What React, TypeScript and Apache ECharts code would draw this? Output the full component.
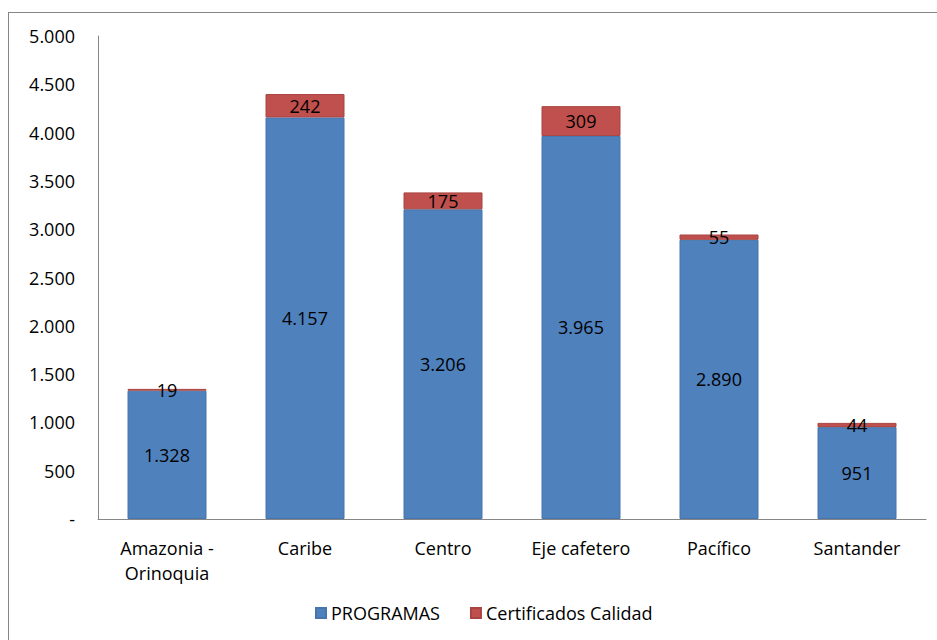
import React, { useEffect, useRef } from "react";
import * as echarts from "echarts";

const categories = ["Amazonia -\nOrinoquia", "Caribe", "Centro", "Eje cafetero", "Pacífico", "Santander"];
const programas = [1328, 4157, 3206, 3965, 2890, 951];
const certificados = [19, 242, 175, 309, 55, 44];
const seriesNames = ["PROGRAMAS", "Certificados Calidad"];

const fmt = (v: number) => {
  if (v === 0) return "-";
  return String(Math.round(v)).replace(/\B(?=(\d{3})+(?!\d))/g, ".");
};

const FONT = "'Open Sans', 'Noto Sans', sans-serif";
const FS = 18;

export default function App() {
  const ref = useRef<HTMLDivElement>(null);
  useEffect(() => {
    if (!ref.current) return;
    const chart = echarts.init(ref.current, null, { renderer: "svg" });
    chart.setOption({
      animation: false,
      backgroundColor: "transparent",
      textStyle: { fontFamily: FONT },
      grid: { left: 98, right: 11, top: 36, bottom: 121, containLabel: false },
      legend: {
        data: seriesNames,
        bottom: 13,
        left: 310,
        icon: "rect",
        itemWidth: 10,
        itemHeight: 10,
        itemGap: 30,
        textStyle: { fontSize: FS, color: "#000", fontFamily: FONT },
      },
      xAxis: {
        type: "category",
        data: categories,
        axisLine: { lineStyle: { color: "#868686", width: 1 } },
        axisTick: { show: false },
        axisLabel: { fontSize: FS, color: "#000", margin: 16, lineHeight: 25, fontFamily: FONT, interval: 0 },
      },
      yAxis: {
        type: "value",
        min: 0,
        max: 5000,
        interval: 500,
        splitLine: { show: false },
        axisLine: { show: true, lineStyle: { color: "#868686", width: 1 } },
        axisTick: { show: false },
        axisLabel: { fontSize: FS, color: "#000", margin: 23, formatter: (v: number) => fmt(v), fontFamily: FONT },
      },
      series: [
        {
          name: seriesNames[0],
          type: "bar",
          stack: "total",
          data: programas,
          barWidth: 79,
          itemStyle: { color: "#4F81BD", borderColor: "#4775AC", borderWidth: 1 },
          label: { show: true, position: "inside", color: "#000", fontSize: FS, fontFamily: FONT, formatter: (p: any) => fmt(p.value) },
        },
        {
          name: seriesNames[1],
          type: "bar",
          stack: "total",
          data: certificados,
          barWidth: 79,
          itemStyle: { color: "#C0504D", borderColor: "#A84542", borderWidth: 1 },
          label: { show: true, position: "inside", color: "#000", fontSize: FS, fontFamily: FONT, formatter: (p: any) => fmt(p.value) },
        },
      ],
    });
    return () => chart.dispose();
  }, []);
  return (
    <div style={{ position: "fixed", left: 0, top: 0, width: 937, height: 640, overflow: "hidden", background: "#fff" }}>
      <div style={{ position: "absolute", left: 8, top: 12, width: 1000, height: 700, border: "1.5px solid #868686", boxSizing: "border-box" }} />
      <div ref={ref} style={{ position: "absolute", left: 0, top: 0, width: 937, height: 640 }} />
    </div>
  );
}
